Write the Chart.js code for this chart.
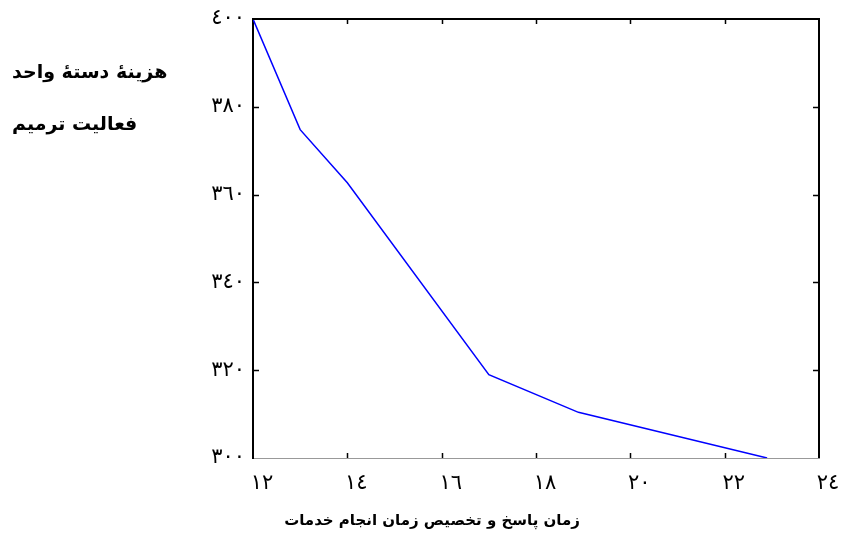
<!DOCTYPE html>
<html>
<head>
<meta charset="utf-8">
<script src="https://cdn.jsdelivr.net/npm/chart.js@4"></script>
<style>
  html, body { margin: 0; padding: 0; background: #fff; }
  #wrap { width: 842px; height: 542px; }
</style>
</head>
<body>
<div id="wrap"><canvas id="myChart" width="842" height="542"></canvas></div>
<script>
// values
const responseTime = [12, 13, 14, 17, 18.9, 22.9];
const unitCost = [400, 374.8, 362.7, 319, 310.4, 300];
const xTicks = [12, 14, 16, 18, 20, 22, 24];
const yTicks = [300, 320, 340, 360, 380, 400];
const yTitleLines = ['هزینهٔ دستهٔ واحد', 'فعالیت ترمیم'];
const xTitle = 'زمان پاسخ و تخصیص زمان انجام خدمات';

const ctx = document.getElementById('myChart');

function toArabicDigits(n) {
  const d = '٠١٢٣٤٥٦٧٨٩';
  return String(n).replace(/[0-9]/g, c => d[+c]);
}

var points = [];
responseTime.forEach((x, i) => {
  points.push({ x: x, y: unitCost[i] });
});

// frame on top/right, inward ticks, titles
const framePlugin = {
  id: 'frame',
  afterDraw(chart) {
    const c = chart.ctx;
    const a = chart.chartArea;
    const sx = chart.scales.x;
    const sy = chart.scales.y;
    c.save();
    c.strokeStyle = '#000';
    c.lineWidth = 2;
    c.beginPath();
    c.moveTo(a.left, a.top);
    c.lineTo(a.right, a.top);
    c.lineTo(a.right, a.bottom);
    c.stroke();
    c.lineWidth = 1.5;
    c.beginPath();
    xTicks.forEach(v => {
      const px = Math.round(sx.getPixelForValue(v)) + 0.5;
      if (v != xTicks[0] && v != xTicks[xTicks.length - 1]) {
        c.moveTo(px, a.top);
        c.lineTo(px, a.top + 5);
        c.moveTo(px, a.bottom);
        c.lineTo(px, a.bottom - 5);
      }
    });
    yTicks.forEach(v => {
      const py = Math.round(sy.getPixelForValue(v)) + 0.5;
      if (v != yTicks[0] && v != yTicks[yTicks.length - 1]) {
        c.moveTo(a.left, py);
        c.lineTo(a.left + 6, py);
        c.moveTo(a.right, py);
        c.lineTo(a.right - 6, py);
      }
    });
    c.stroke();

    c.fillStyle = '#000';
    c.direction = 'rtl';
    c.textBaseline = 'middle';
    c.textAlign = 'left';
    c.font = 'bold 19px "DejaVu Sans"';
    c.fillText(yTitleLines[0], 12, 73);
    c.fillText(yTitleLines[1], 12, 125);
    c.textAlign = 'center';
    c.font = 'bold 15px "DejaVu Sans"';
    c.fillText(xTitle, 432, 521);
    c.restore();
  }
};

new Chart(ctx, {
  type: 'line',
  data: {
    datasets: [{
      data: points,
      borderColor: '#0000ff',
      borderWidth: 1.5,
      pointRadius: 0,
      tension: 0,
      fill: false
    }]
  },
  options: {
    responsive: false,
    animation: false,
    layout: { padding: { left: 0, top: 19, right: 23, bottom: 0 } },
    plugins: {
      legend: { display: false },
      tooltip: { enabled: false }
    },
    scales: {
      x: {
        type: 'linear',
        min: 12,
        max: 24,
        afterBuildTicks: s => { s.ticks = xTicks.map(v => ({ value: v })); },
        afterFit: s => { s.height = 84; s.paddingLeft = 0; s.paddingRight = 0; },
        grid: { display: false },
        border: { color: '#999', width: 1 },
        ticks: {
          color: '#000',
          font: { family: 'DejaVu Sans', size: 21 },
          padding: 5,
          labelOffset: 9,
          maxRotation: 0,
          autoSkip: false,
          callback: v => toArabicDigits(v)
        }
      },
      y: {
        min: 300,
        max: 400,
        afterBuildTicks: s => { s.ticks = yTicks.map(v => ({ value: v })); },
        afterFit: s => { s.width = 253; s.paddingTop = 0; s.paddingBottom = 0; },
        grid: { display: false },
        border: { color: '#000', width: 2 },
        ticks: {
          color: '#000',
          font: { family: 'DejaVu Sans', size: 21 },
          padding: 0,
          callback: v => toArabicDigits(v)
        }
      }
    }
  },
  plugins: [framePlugin]
});
</script>
</body>
</html>
